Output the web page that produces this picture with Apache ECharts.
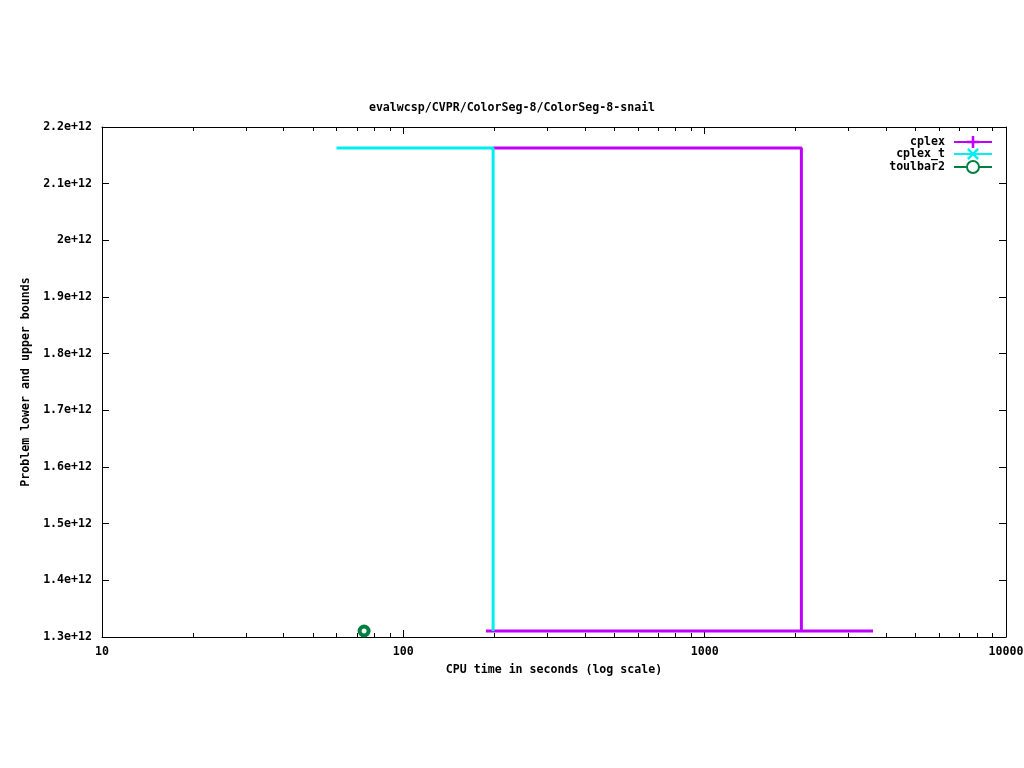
<!DOCTYPE html>
<html><head><meta charset="utf-8">
<script src="https://cdn.jsdelivr.net/npm/echarts@6/dist/echarts.min.js"></script>
<style>html,body{margin:0;padding:0;background:#fff}#c{width:1024px;height:768px}</style>
</head><body><div id="c"></div>
<script>
const titleText = 'evalwcsp/CVPR/ColorSeg-8/ColorSeg-8-snail';
const xName = 'CPU time in seconds (log scale)';
const yName = 'Problem lower and upper bounds';
const seriesNames = ['cplex', 'cplex_t', 'toulbar2'];
// cplex upper bound (step) and lower bound
const cplexUpper = [[198.6, 2.163e12], [2094, 2.163e12], [2094, 1.3106e12]];
const cplexLower = [[188, 1.3106e12], [3620, 1.3106e12]];
// cplex_t upper bound
const cplexTUpper = [[60, 2.163e12], [198.6, 2.163e12], [198.6, 1.3106e12]];
// toulbar2 single point
const toulbar2 = [[74.1, 1.3106e12]];
const minorTicks = [20,30,40,50,60,70,80,90,200,300,400,500,600,700,800,900,2000,3000,4000,5000,6000,7000,8000,9000];

const FONT = 'DejaVu Sans Mono';
const txt = {fontFamily: FONT, fontWeight: 'bold', fontSize: 11.6, color: '#000'};
const C_PURPLE = '#c000ff', C_CYAN = '#00eeee', C_GREEN = '#008040';
const plusPath = 'path://M5.5,0H8.5V5.5H14V8.5H8.5V14H5.5V8.5H0V5.5H5.5Z';
const xPath = 'path://M0,2L2,0L7,5L12,0L14,2L9,7L14,12L12,14L7,9L2,14L0,12L5,7Z';

const chart = echarts.init(document.getElementById('c'), null, {renderer: 'canvas'});
const lineOf = (name, data, color, symbol) => ({
  type: 'line', name, data, symbol, showSymbol: false, symbolSize: 12,
  lineStyle: {color, width: 3}, itemStyle: {color}, animation: false, z: 3
});
chart.setOption({
  animation: false,
  title: {text: titleText, left: 'center', top: 97, textStyle: Object.assign({}, txt)},
  grid: {left: 102, right: 18, top: 127, bottom: 131, show: false, containLabel: false, outerBoundsMode: 'none'},
  legend: {
    data: seriesNames, orient: 'vertical', align: 'right', right: 26, top: 131,
    itemWidth: 38, itemHeight: 15, itemGap: 0,
    textStyle: Object.assign({}, txt, {width: 70, align: 'right', padding: [0, 4, 0, 0]}),
    selectedMode: false
  },
  xAxis: [{
    type: 'log', logBase: 10, min: 10, max: 10000,
    name: xName, nameLocation: 'middle', nameGap: 27, nameTextStyle: txt,
    axisLine: {show: true, lineStyle: {color: '#000', width: 1}},
    axisTick: {show: true, inside: true, length: 7, lineStyle: {color: '#000'}},
    axisLabel: Object.assign({margin: 9, formatter: v => String(Math.round(v))}, txt),
    splitLine: {show: false}
  }, {
    type: 'log', logBase: 10, min: 10, max: 10000, position: 'top',
    axisLine: {show: true, lineStyle: {color: '#000', width: 1}},
    axisTick: {show: true, inside: true, length: 7, lineStyle: {color: '#000'}},
    axisLabel: {show: false}, splitLine: {show: false}
  }],
  yAxis: [{
    type: 'value', min: 1.3e12, max: 2.2e12, interval: 1e11,
    name: yName, nameLocation: 'middle', nameGap: 69, nameTextStyle: txt,
    axisLine: {show: true, lineStyle: {color: '#000', width: 1}},
    axisTick: {show: true, inside: true, length: 7, lineStyle: {color: '#000'}},
    axisLabel: Object.assign({margin: 10, padding: [4, 0, 0, 0], formatter: v => (Math.round(v / 1e11) / 10) + 'e+12'}, txt),
    splitLine: {show: false}
  }, {
    type: 'value', min: 1.3e12, max: 2.2e12, interval: 1e11, position: 'right',
    axisLine: {show: true, lineStyle: {color: '#000', width: 1}},
    axisTick: {show: true, inside: true, length: 7, lineStyle: {color: '#000'}},
    axisLabel: {show: false}, splitLine: {show: false}
  }],
  series: [
    lineOf('cplex', cplexUpper, C_PURPLE, plusPath),
    lineOf('cplex', cplexLower, C_PURPLE, plusPath),
    lineOf('cplex_t', cplexTUpper, C_CYAN, xPath),
    {
      type: 'line', name: 'toulbar2', data: toulbar2, symbol: 'circle', symbolSize: 9, showSymbol: true,
      lineStyle: {color: C_GREEN, width: 3},
      itemStyle: {color: '#fff', borderColor: C_GREEN, borderWidth: 4}, z: 4
    },
    {
      type: 'custom', silent: true, z: 5,
      data: minorTicks.map(v => [v, 1.3e12]),
      renderItem: (params, api) => {
        const p = api.coord([api.value(0), 1.3e12]);
        const cs = params.coordSys;
        const x = Math.round(p[0]) + 0.5;
        const style = {stroke: '#000', lineWidth: 1};
        return {type: 'group', children: [
          {type: 'line', shape: {x1: x, y1: cs.y + cs.height, x2: x, y2: cs.y + cs.height - 4}, style},
          {type: 'line', shape: {x1: x, y1: cs.y, x2: x, y2: cs.y + 4}, style}
        ]};
      }
    }
  ]
});
</script></body></html>
